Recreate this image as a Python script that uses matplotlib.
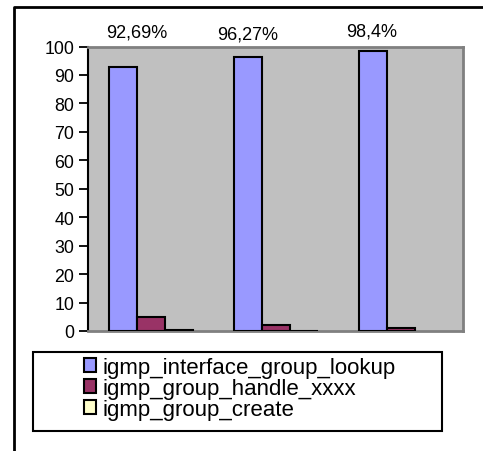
import matplotlib
matplotlib.use("Agg")
import matplotlib.pyplot as plt
from matplotlib.lines import Line2D
from matplotlib.patches import Patch, Rectangle
import numpy as np

plt.rcParams['font.family'] = ['Liberation Sans', 'DejaVu Sans']

# Data
groups = [0, 1, 2]
series_names = ["igmp_interface_group_lookup", "igmp_group_handle_xxxx", "igmp_group_create"]
lookup = [92.69, 96.27, 98.4]
handle = [4.8, 2.2, 1.0]
create = [0.2, 0.1, 0.0]
pct_labels = ["92,69%", "96,27%", "98,4%"]
yticks = [0, 10, 20, 30, 40, 50, 60, 70, 80, 90, 100]

colors = ["#9999FF", "#993366", "#FFFFCC"]

W, H = 483, 452
fig = plt.figure(figsize=(W / 100, H / 100), dpi=100)
fig.patch.set_facecolor("white")

ax = fig.add_axes([88 / W, 1 - 332 / H, 375 / W, 284.5 / H])
ax.set_facecolor("#C0C0C0")

bw = 0.224
x = np.array(groups, dtype=float)
for k, vals in enumerate([lookup, handle, create]):
    v = np.array(vals, dtype=float)
    keep = v > 0  # empty entries leave no outline
    ax.bar(x[keep] + (k - 1) * bw, v[keep], width=bw, color=colors[k],
           edgecolor="black", linewidth=1.5, zorder=3)

ax.set_xlim(-0.5, 2.5)
ax.set_ylim(0, 100)
ax.set_xticks([])
ax.set_yticks(yticks)
ax.tick_params(axis="y", direction="out", length=6.5, width=1.3, pad=3.5,
               labelsize=12.8, colors="black")

for side in ["top", "right", "bottom"]:
    ax.spines[side].set_color("#808080")
    ax.spines[side].set_linewidth(2)
ax.spines["left"].set_color("black")
ax.spines["left"].set_linewidth(1.5)

# Percentage labels above the groups
label_dx = [-0.108, -0.22, -0.228]
label_y = [105.1, 104.4, 105.5]
for g, txt, dx, yy in zip(groups, pct_labels, label_dx, label_y):
    ax.text(g + dx, yy, txt, ha="center", va="center", fontsize=13,
            clip_on=False)

# Legend entries
handles = [Patch(facecolor=c, edgecolor="black", linewidth=1.5) for c in colors]
leg = fig.legend(handles, series_names, loc="upper left",
                 bbox_to_anchor=(84 / W, 1 - 358 / H),
                 fontsize=16, frameon=False,
                 handlelength=0.55, handleheight=0.55, handletextpad=0.3,
                 labelspacing=0.0, borderpad=0.0, borderaxespad=0)

# Legend box
fig.add_artist(Rectangle((33 / W, 1 - 431.7 / H), (442 - 33) / W, (431.7 - 352.7) / H,
                         transform=fig.transFigure, facecolor="none",
                         edgecolor="black", linewidth=1.5))

# Outer frame lines (left and top)
fig.add_artist(Line2D([14 / W, 14 / W, 1.0], [0.0, 1 - 8 / H, 1 - 8 / H],
                      transform=fig.transFigure, color="black", linewidth=2))

fig.savefig("out.png", dpi=100, facecolor="white")
